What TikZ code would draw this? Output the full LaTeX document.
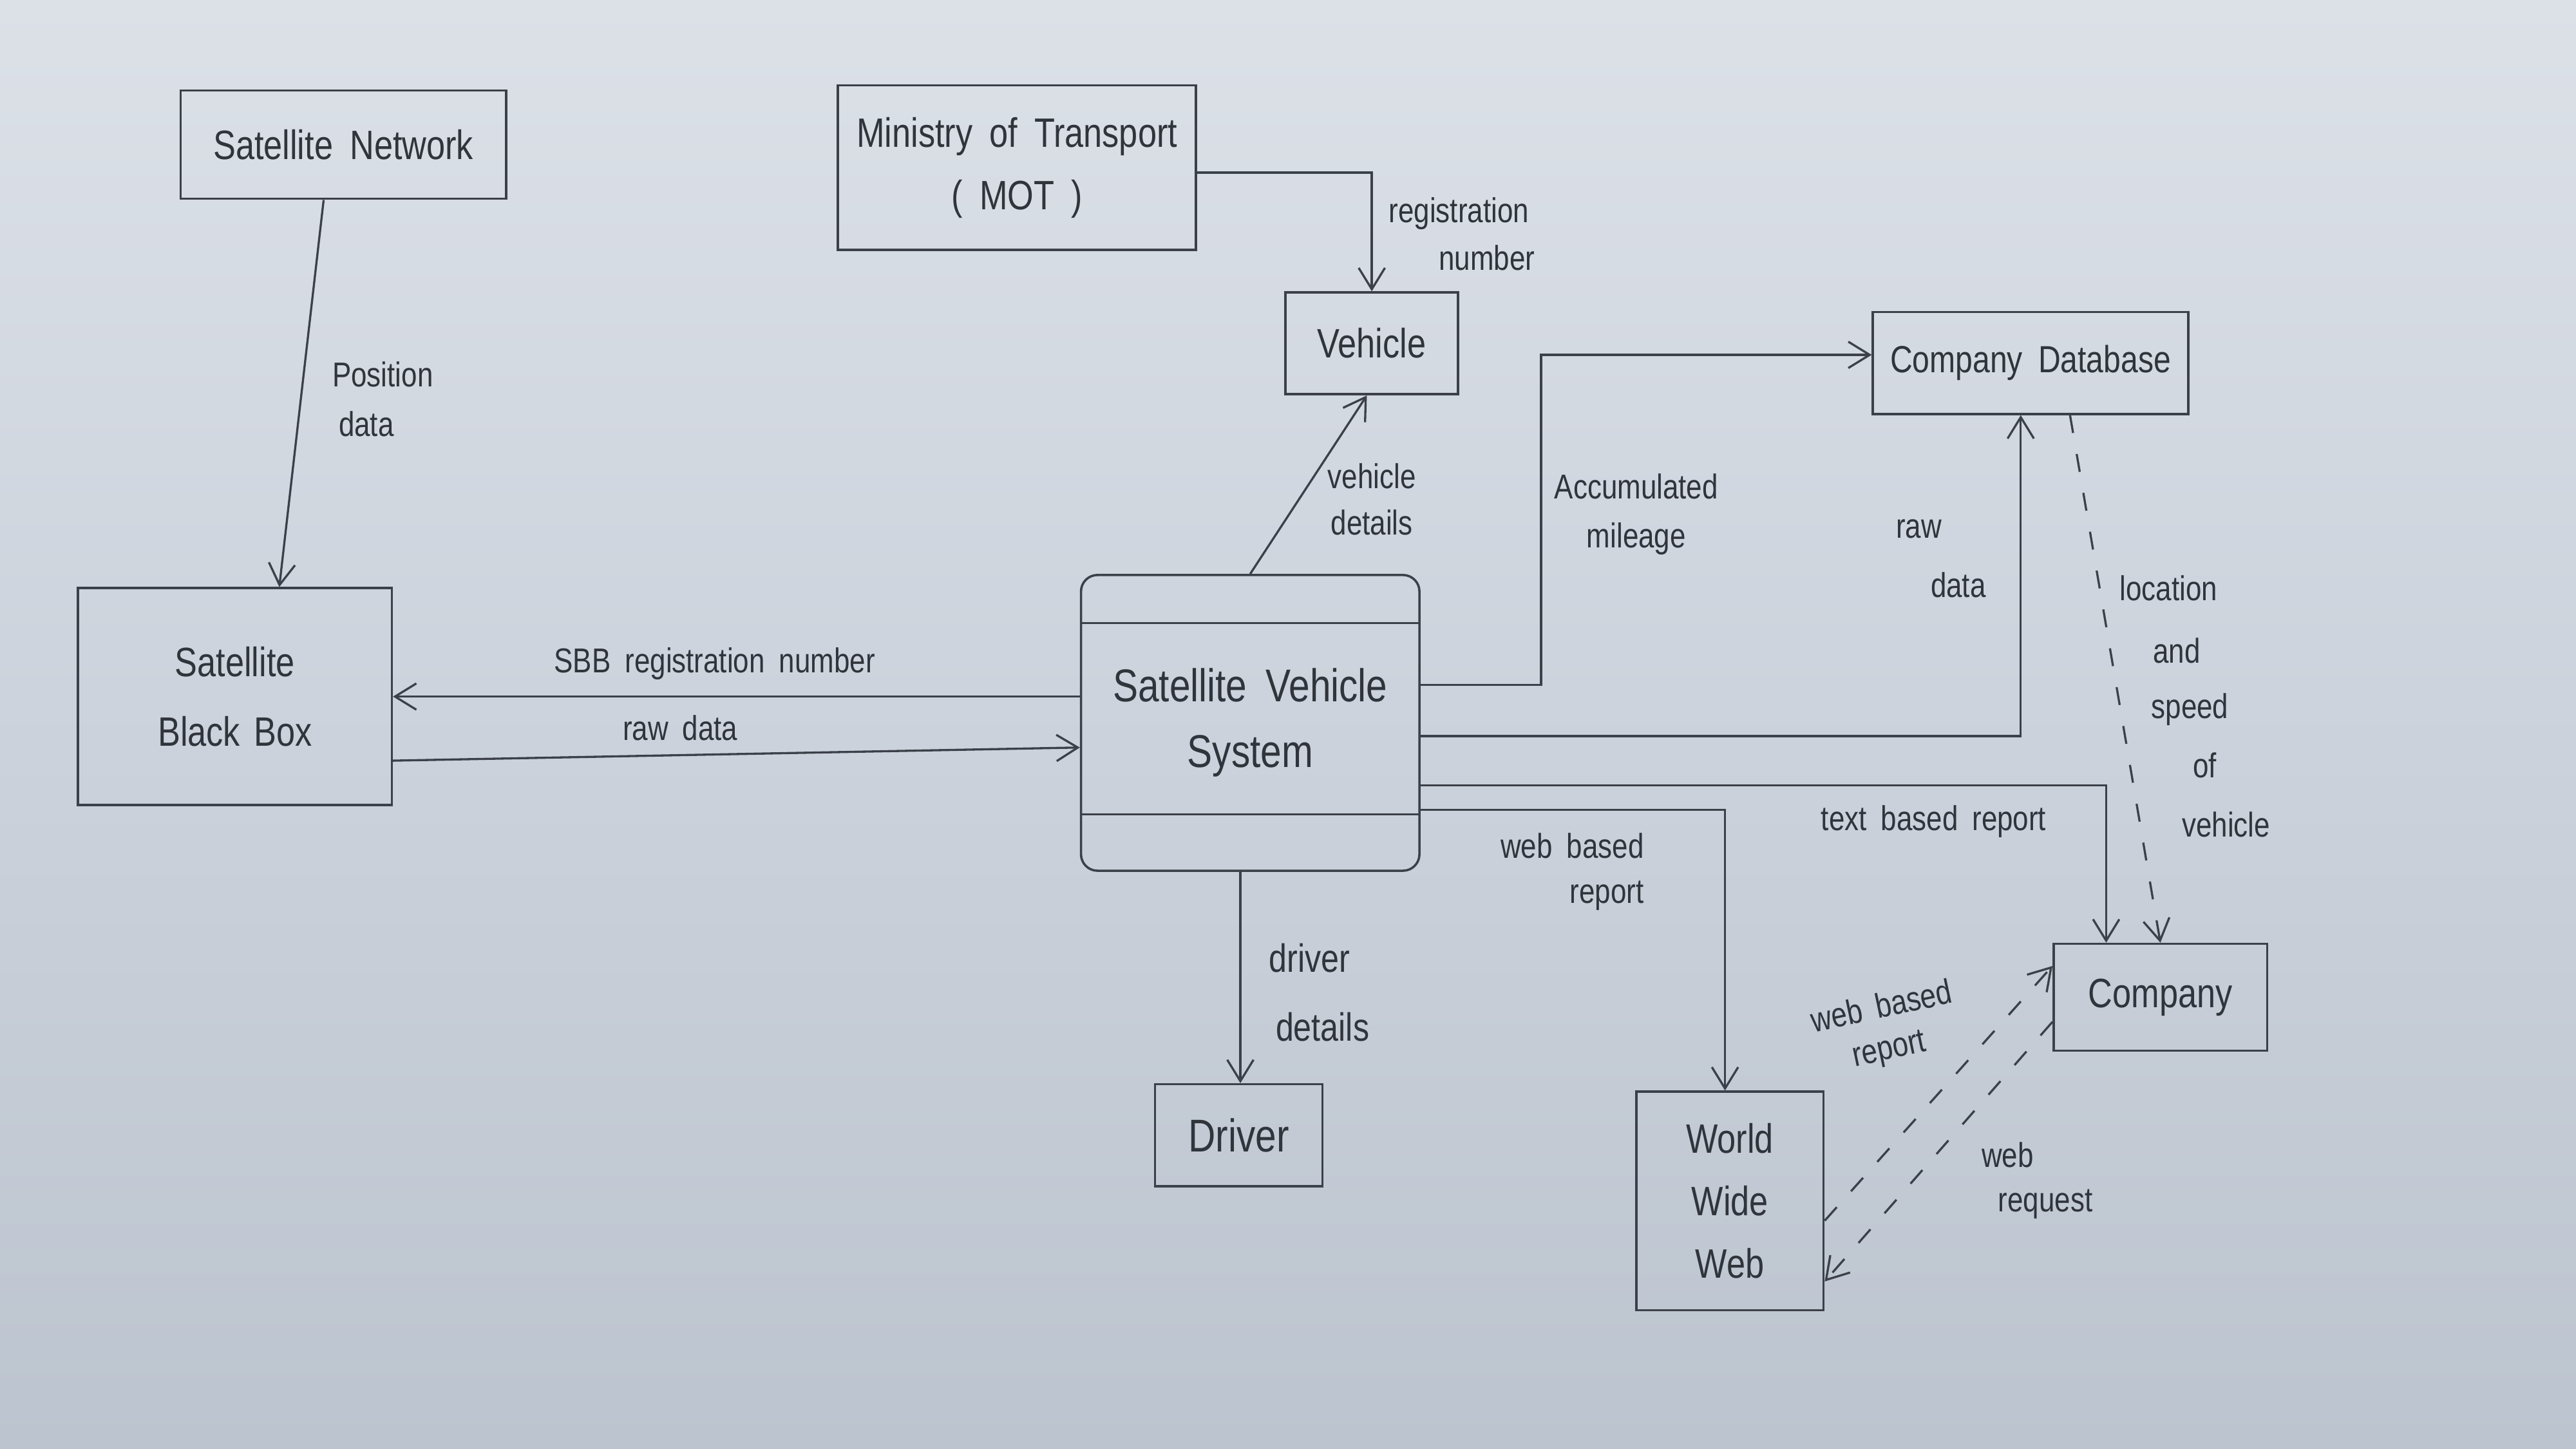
\documentclass[tikz,border=0pt]{standalone}
\usepackage{fontspec}
\setmainfont[FakeStretch=0.82,WordSpace=1.8]{Liberation Sans}
\usetikzlibrary{arrows.meta,calc}
\definecolor{paperA}{HTML}{DCE1E8}
\definecolor{paperB}{HTML}{BCC4CF}
\definecolor{ink}{HTML}{3C4048}
\definecolor{inktext}{HTML}{30343B}
\tikzset{
  ent/.style={draw=ink, line width=1.4pt, inner sep=0pt, align=center, text=inktext, font=\fontsize{25}{34}\selectfont},
  lab/.style={text=inktext, inner sep=0pt, align=center, font=\fontsize{21}{30}\selectfont},
  flow/.style={draw=ink, line width=1.3pt, -{Straight Barb[length=13pt,width=16pt,line width=1.3pt]}},
  dflow/.style={flow, dash pattern=on 11pt off 13pt},
}
\begin{document}
\begin{tikzpicture}[x=1pt,y=-1pt]
\useasboundingbox (0,0) rectangle (1568,882);
\shade[top color=paperA, bottom color=paperB] (0,0) rectangle (1568,882);

% entities
\node[ent, minimum width=198, minimum height=66] (sn) at (209,88) {Satellite Network};
\node[ent, minimum width=218, minimum height=100] (mot) at (619,102) {Ministry of Transport\\[4pt]( MOT )};
\node[ent, minimum width=105, minimum height=62] (veh) at (835,209) {Vehicle};
\node[ent, minimum width=192, minimum height=62, font=\fontsize{23}{30}\selectfont] (cdb) at (1236,221) {Company Database};
\node[ent, minimum width=191, minimum height=132, text width=150] (sbb) at (143,424) {Satellite\\[8pt]Black Box};
\node[ent, rounded corners=10pt, minimum width=206, minimum height=180, font=\fontsize{28}{40}\selectfont] (svs) at (761,440) {Satellite Vehicle\\System};
\draw[ink, line width=1.4pt] ([yshift=-30pt]svs.north west) -- ([yshift=-30pt]svs.north east);
\draw[ink, line width=1.4pt] ([yshift=35pt]svs.south west) -- ([yshift=35pt]svs.south east);
\node[ent, minimum width=102, minimum height=62, font=\fontsize{28}{34}\selectfont] (drv) at (754,691) {Driver};
\node[ent, minimum width=114, minimum height=133, font=\fontsize{25}{38}\selectfont] (www) at (1053,731) {World\\Wide\\Web};
\node[ent, minimum width=130, minimum height=65] (comp) at (1315,607) {Company};

% helper coordinates
\coordinate (amc) at (938,216);
\coordinate (rdc) at (1230,448);

% connectors
\draw[flow] ([xshift=-12pt]sn.south) -- ([xshift=27pt]sbb.north);
\draw[flow] ([yshift=-3pt]mot.east) -| (veh.north);
\draw[flow] (svs.north) -- ([xshift=-3pt]veh.south);
\draw[flow] ([yshift=23pt]svs.east) -| (amc) -- ([yshift=5pt]cdb.west);
\draw[flow] ([yshift=-8pt]svs.east) -- (rdc) -- (rdc |- cdb.south);
\draw[flow] ([yshift=-38pt]svs.east) -| ([xshift=-33pt]comp.north);
\draw[dflow] ([xshift=24pt]cdb.south) -- (comp.north);
\draw[flow] ([yshift=-53pt]svs.east) -| ([xshift=-3pt]www.north);
\draw[dflow] ([yshift=-12pt]www.east) -- ([yshift=19pt]comp.west);
\draw[dflow] ([yshift=-15pt]comp.west) -- ([yshift=-49pt]www.east);
\draw[flow] ([yshift=16pt]svs.west) -- (sbb.east);
\draw[flow] ([yshift=-39pt]sbb.east) -- ([yshift=-15pt]svs.west);
\draw[flow] ([xshift=-6pt]svs.south) -- ([xshift=1pt]drv.north);

% labels
\node[lab] (l1a) at (233,228) {Position};
\node[lab] (l1b) at (223,258) {data};
\node[lab] (l2a) at (888,130) {registration};
\node[lab] (l2b) at (905,157) {number};
\node[lab] (l3a) at (835,290) {vehicle};
\node[lab] (l3b) at (835,318) {details};
\node[lab] (l4a) at (996,296) {Accumulated};
\node[lab] (l4b) at (996,328) {mileage};
\node[lab] (l5a) at (1168,322) {raw};
\node[lab] (l5b) at (1192,356) {data};
\node[lab] (l6) at (1177,500) {text based report};
\node[lab] (l7a) at (1320,358) {location};
\node[lab] (l7b) at (1325,396) {and};
\node[lab] (l7c) at (1333,432) {speed};
\node[lab] (l7d) at (1342,466) {of};
\node[lab] (l7e) at (1355,502) {vehicle};
\node[lab] (l8a) at (957,515) {web based};
\node[lab] (l8b) at (978,545) {report};
\node[lab, rotate=12] (l9a) at (1145,612) {web based};
\node[lab, rotate=12] (l9b) at (1150,640) {report};
\node[lab] (l10a) at (1222,703) {web};
\node[lab] (l10b) at (1245,733) {request};
\node[lab] (l11) at (435,404) {SBB registration number};
\node[lab] (l12) at (414,443) {raw data};
\node[lab, font=\fontsize{24}{30}\selectfont] (l13a) at (797,583) {driver};
\node[lab, font=\fontsize{24}{30}\selectfont] (l13b) at (805,625) {details};
\end{tikzpicture}
\end{document}
